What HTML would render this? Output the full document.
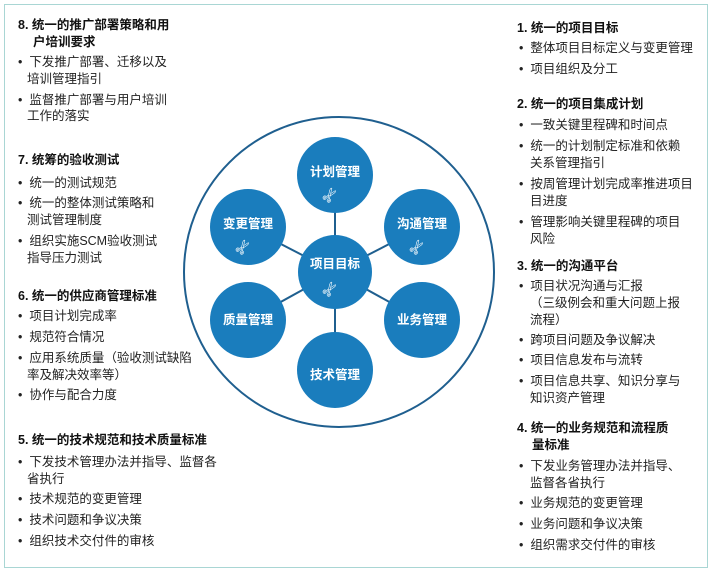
<!DOCTYPE html>
<html><head><meta charset="utf-8"><style>
body{margin:0;width:714px;height:574px;background:#fff;position:relative;overflow:hidden;font-family:"Liberation Sans","Noto Sans CJK SC",sans-serif;}
.f{position:absolute;left:4px;top:4px;width:702px;height:562px;border:1.5px solid #a9d6d4;}
.t{position:absolute;font-size:12.5px;line-height:18px;color:#222;white-space:nowrap;}
.h{color:#111;font-weight:bold;}
svg{position:absolute;left:0;top:0;}
</style></head><body>
<div class="f"></div>
<svg width="714" height="574">
<circle cx="339" cy="272" r="155" fill="none" stroke="#1f5f8f" stroke-width="2"/>
<g stroke="#1f5f8f" stroke-width="2">
<line x1="335" y1="272" x2="335" y2="175"/><line x1="335" y1="272" x2="335" y2="370"/>
<line x1="335" y1="272" x2="248" y2="227"/><line x1="335" y1="272" x2="422" y2="227"/>
<line x1="335" y1="272" x2="248" y2="320"/><line x1="335" y1="272" x2="422" y2="320"/>
</g>
<g fill="#1a7dbd">
<circle cx="335" cy="272" r="37"/><circle cx="335" cy="175" r="38"/><circle cx="335" cy="370" r="38"/>
<circle cx="248" cy="227" r="38"/><circle cx="422" cy="227" r="38"/><circle cx="248" cy="320" r="38"/><circle cx="422" cy="320" r="38"/>
</g>
<g fill="#fff" font-size="12.5" font-weight="bold" text-anchor="middle" font-family="Liberation Sans,Noto Sans CJK SC,sans-serif">
<text x="335" y="268">项目目标</text><text x="335" y="176">计划管理</text><text x="335" y="379">技术管理</text>
<text x="248" y="228">变更管理</text><text x="422" y="228">沟通管理</text><text x="248" y="324">质量管理</text><text x="422" y="324">业务管理</text>
</g>
<g fill="#fff" font-size="18" text-anchor="middle">
<text transform="translate(335,293) rotate(-55)">✄</text>
<text transform="translate(335,199) rotate(-55)">✄</text>
<text transform="translate(248,251) rotate(-55)">✄</text>
<text transform="translate(422,251) rotate(-55)">✄</text>
</g>
</svg>

<div class="t h" style="left:18px;top:16px">8. 统一的推广部署策略和用</div>
<div class="t h" style="left:33px;top:33px">户培训要求</div>
<div class="t" style="left:18px;top:53px">•&nbsp; 下发推广部署、迁移以及</div>
<div class="t" style="left:27px;top:70px">培训管理指引</div>
<div class="t" style="left:18px;top:91px">•&nbsp; 监督推广部署与用户培训</div>
<div class="t" style="left:27px;top:107px">工作的落实</div>

<div class="t h" style="left:18px;top:151px">7. 统筹的验收测试</div>
<div class="t" style="left:18px;top:174px">•&nbsp; 统一的测试规范</div>
<div class="t" style="left:18px;top:194px">•&nbsp; 统一的整体测试策略和</div>
<div class="t" style="left:27px;top:211px">测试管理制度</div>
<div class="t" style="left:18px;top:232px">•&nbsp; 组织实施SCM验收测试</div>
<div class="t" style="left:27px;top:249px">指导压力测试</div>

<div class="t h" style="left:18px;top:287px">6. 统一的供应商管理标准</div>
<div class="t" style="left:18px;top:307px">•&nbsp; 项目计划完成率</div>
<div class="t" style="left:18px;top:328px">•&nbsp; 规范符合情况</div>
<div class="t" style="left:18px;top:349px">•&nbsp; 应用系统质量（验收测试缺陷</div>
<div class="t" style="left:27px;top:366px">率及解决效率等）</div>
<div class="t" style="left:18px;top:386px">•&nbsp; 协作与配合力度</div>

<div class="t h" style="left:18px;top:431px">5. 统一的技术规范和技术质量标准</div>
<div class="t" style="left:18px;top:453px">•&nbsp; 下发技术管理办法并指导、监督各</div>
<div class="t" style="left:27px;top:470px">省执行</div>
<div class="t" style="left:18px;top:490px">•&nbsp; 技术规范的变更管理</div>
<div class="t" style="left:18px;top:511px">•&nbsp; 技术问题和争议决策</div>
<div class="t" style="left:18px;top:532px">•&nbsp; 组织技术交付件的审核</div>

<div class="t h" style="left:517px;top:19px">1. 统一的项目目标</div>
<div class="t" style="left:519px;top:39px">•&nbsp; 整体项目目标定义与变更管理</div>
<div class="t" style="left:519px;top:60px">•&nbsp; 项目组织及分工</div>
<div class="t h" style="left:517px;top:95px">2. 统一的项目集成计划</div>
<div class="t" style="left:519px;top:116px">•&nbsp; 一致关键里程碑和时间点</div>
<div class="t" style="left:519px;top:137px">•&nbsp; 统一的计划制定标准和依赖</div>
<div class="t" style="left:530px;top:154px">关系管理指引</div>
<div class="t" style="left:519px;top:175px">•&nbsp; 按周管理计划完成率推进项目</div>
<div class="t" style="left:530px;top:192px">目进度</div>
<div class="t" style="left:519px;top:213px">•&nbsp; 管理影响关键里程碑的项目</div>
<div class="t" style="left:530px;top:230px">风险</div>
<div class="t h" style="left:517px;top:257px">3. 统一的沟通平台</div>
<div class="t" style="left:519px;top:277px">•&nbsp; 项目状况沟通与汇报</div>
<div class="t" style="left:530px;top:294px">（三级例会和重大问题上报</div>
<div class="t" style="left:530px;top:311px">流程）</div>
<div class="t" style="left:519px;top:331px">•&nbsp; 跨项目问题及争议解决</div>
<div class="t" style="left:519px;top:351px">•&nbsp; 项目信息发布与流转</div>
<div class="t" style="left:519px;top:372px">•&nbsp; 项目信息共享、知识分享与</div>
<div class="t" style="left:530px;top:389px">知识资产管理</div>
<div class="t h" style="left:517px;top:419px">4. 统一的业务规范和流程质</div>
<div class="t h" style="left:532px;top:436px">量标准</div>
<div class="t" style="left:519px;top:457px">•&nbsp; 下发业务管理办法并指导、</div>
<div class="t" style="left:530px;top:474px">监督各省执行</div>
<div class="t" style="left:519px;top:494px">•&nbsp; 业务规范的变更管理</div>
<div class="t" style="left:519px;top:515px">•&nbsp; 业务问题和争议决策</div>
<div class="t" style="left:519px;top:536px">•&nbsp; 组织需求交付件的审核</div>
</body></html>
